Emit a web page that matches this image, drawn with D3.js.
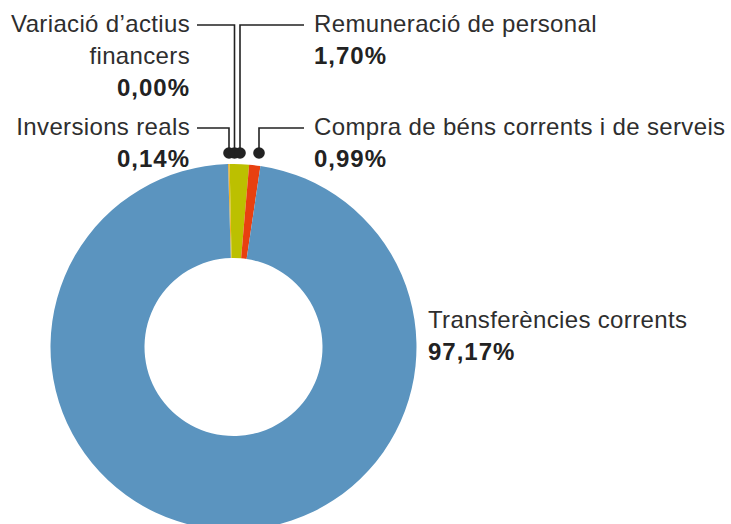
<!DOCTYPE html>
<html>
<head>
<meta charset="utf-8">
<script src="https://cdn.jsdelivr.net/npm/d3@7"></script>
<style>
  body { margin: 0; background: #fff; }
  text { font-family: "Liberation Sans", Arial, sans-serif; }
</style>
</head>
<body>
<div id="chart"></div>
<script>
// dades
var categories = ["Inversions reals", "Variació d’actius financers", "Remuneració de personal", "Compra de béns corrents i de serveis", "Transferències corrents"];
var values = [0.14, 0.00, 1.70, 0.99, 97.17];
var colors = ["#f2b12a", "#f2b12a", "#bcc000", "#e84010", "#5b94bf"];

// text de les etiquetes (línies)
var labelLines = [
  ["Inversions reals"],
  ["Variació d’actius", "financers"],
  ["Remuneració de personal"],
  ["Compra de béns corrents i de serveis"],
  ["Transferències corrents"]
];

var width = 731, height = 524;
var cx = 233.5, cy = 347;
var outerR = 183, innerR = 89;
var lineH = 32;

var svg = d3.select("#chart").append("svg")
  .attr("width", width).attr("height", height);

var pie = d3.pie().sort(null).value(function(d){ return d; })
  .startAngle(-0.03).endAngle(2 * Math.PI - 0.03);
var arc = d3.arc().innerRadius(innerR).outerRadius(outerR);
var arcs = pie(values);

svg.append("g").attr("transform", "translate(" + cx + "," + cy + ")")
  .selectAll("path")
  .data(arcs)
  .enter()
  .append("path")
  .attr("d", arc)
  .attr("fill", function(d, i){ return colors[i]; });

var fmt = function(v){ return d3.format(".2f")(v).replace(".", ",") + "%"; };

// posició de les etiquetes: costat, x del text, línia base, x del punt
var layout = [
  { side: "left",  x: 190, y: 135, dotDx: -4.5 },
  { side: "left",  x: 190, y: 32,  dotDx: 1 },
  { side: "right", x: 314, y: 32,  dotDx: 6.5 },
  { side: "right", x: 314, y: 135, dotDx: 25.5 },
  { side: "right", x: 428, y: 328, dotDx: null }
];
var dotY = 153;

var labels = svg.append("g");
layout.forEach(function(l, i){
  var g = labels.append("g");
  var anchor = l.side === "left" ? "end" : "start";
  labelLines[i].forEach(function(t, j){
    g.append("text")
      .attr("x", l.x).attr("y", l.y + j * lineH)
      .attr("text-anchor", anchor)
      .attr("font-size", 24)
      .attr("letter-spacing", 0.35)
      .attr("fill", "#2e2e2e")
      .text(t);
  });
  g.append("text")
    .attr("x", l.x).attr("y", l.y + labelLines[i].length * lineH)
    .attr("text-anchor", anchor)
    .attr("font-size", 24)
    .attr("font-weight", "bold")
    .attr("letter-spacing", 1)
    .attr("fill", "#222")
    .text(fmt(values[i]));

  if (l.dotDx !== null) {
    var dx = cx + l.dotDx;
    var ly = l.y - 7;
    var x0 = l.side === "left" ? l.x + 7 : l.x - 10;
    labels.append("path")
      .attr("d", "M" + x0 + "," + ly + "H" + dx + "V" + dotY)
      .attr("fill", "none")
      .attr("stroke", "#222")
      .attr("stroke-width", 1.6);
  }
});
// punts al final
layout.forEach(function(l){
  if (l.dotDx !== null) {
    labels.append("circle")
      .attr("cx", cx + l.dotDx).attr("cy", dotY).attr("r", 5.8)
      .attr("fill", "#222");
  }
});
</script>
</body>
</html>
